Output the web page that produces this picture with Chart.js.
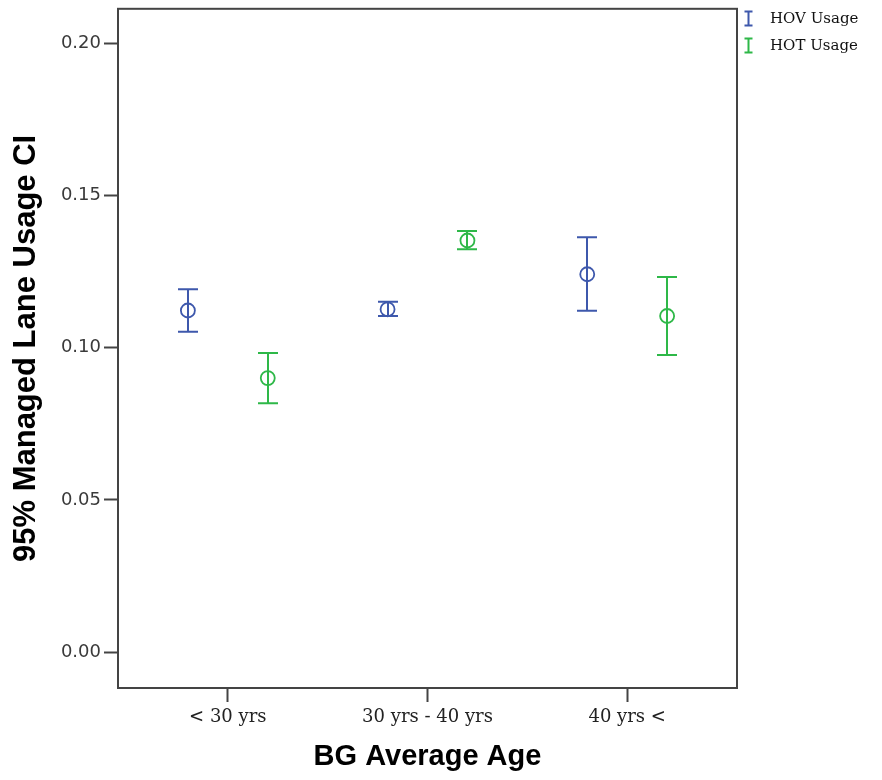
<!DOCTYPE html>
<html>
<head>
<meta charset="utf-8">
<title>Managed Lane Usage</title>
<script src="https://cdn.jsdelivr.net/npm/chart.js@4.4.1/dist/chart.umd.min.js"></script>
<style>
    html, body { margin: 0; padding: 0; background: #fff; }
    #grafico { display: block; }
</style>
</head>
<body>
<canvas id="grafico" width="882" height="780"></canvas>
<script>
// ── Dados ──
const categorias = ["< 30 yrs", "30 yrs - 40 yrs", "40 yrs <"];
const yTicks     = [0, 0.05, 0.10, 0.15, 0.20];

const hovMedia = [0.1122, 0.1126, 0.1241];
const hovInf   = [0.1052, 0.1104, 0.1121];
const hovSup   = [0.1192, 0.1151, 0.1363];

const hotMedia = [0.0900, 0.1352, 0.1104];
const hotInf   = [0.0817, 0.1323, 0.0976];
const hotSup   = [0.0982, 0.1383, 0.1232];

const series = [
    { label: "HOV Usage", cor: "#3E58AC", media: hovMedia, inf: hovInf, sup: hovSup, desloc: -0.2 },
    { label: "HOT Usage", cor: "#2EB848", media: hotMedia, inf: hotInf, sup: hotSup, desloc:  0.2 },
];

const COR_EIXO = "#444";
const FONTE_SERIF = "'DejaVu Serif', serif";
const FONTE_TITULO = "'Liberation Sans', Arial, sans-serif";

// ── Barras de erro (IC 95%) ──
const barrasErro = {
    id: "barrasErro",
    afterDatasetsDraw(chart) {
        const { ctx, scales: { x, y } } = chart;
        ctx.save();
        ctx.lineWidth = 2;
        series.forEach(s => {
            ctx.strokeStyle = s.cor;
            s.media.forEach((_, i) => {
                const px  = Math.round(x.getPixelForValue(i + s.desloc));
                const yLo = y.getPixelForValue(s.inf[i]);
                const yHi = y.getPixelForValue(s.sup[i]);
                ctx.beginPath();
                ctx.moveTo(px, yLo); ctx.lineTo(px, yHi);
                ctx.moveTo(px - 10, yLo); ctx.lineTo(px + 10, yLo);
                ctx.moveTo(px - 10, yHi); ctx.lineTo(px + 10, yHi);
                ctx.stroke();
            });
        });
        ctx.restore();
    }
};

// ── Moldura e legenda ──
const moldura = {
    id: "moldura",
    afterDraw(chart) {
        const { ctx, chartArea: a } = chart;
        ctx.save();
        ctx.strokeStyle = COR_EIXO;
        ctx.lineWidth = 2;
        ctx.strokeRect(a.left, a.top, a.right - a.left, a.bottom - a.top);

        // legenda no canto superior direito
        ctx.font = "15px " + FONTE_SERIF;
        ctx.textBaseline = "middle";
        series.forEach((s, k) => {
            const cy = 18.5 + k * 27;
            const ix = 748.5;
            ctx.strokeStyle = s.cor;
            ctx.lineWidth = 2;
            ctx.beginPath();
            ctx.moveTo(ix, cy - 7); ctx.lineTo(ix, cy + 7);
            ctx.moveTo(ix - 4, cy - 7); ctx.lineTo(ix + 4, cy - 7);
            ctx.moveTo(ix - 4, cy + 7); ctx.lineTo(ix + 4, cy + 7);
            ctx.stroke();
            ctx.fillStyle = "#111";
            ctx.fillText(s.label, 770, cy + 1);
        });
        ctx.restore();
    }
};

const gradeEixo = {
    drawOnChartArea: false,
    drawTicks: true,
    tickLength: 14,
    tickWidth: 2,
    tickColor: COR_EIXO,
};

new Chart(document.getElementById("grafico"), {
    type: "scatter",
    data: {
        datasets: series.map(s => ({
            label: s.label,
            data: s.media.map((v, i) => ({ x: i + s.desloc, y: v })),
            borderColor: s.cor,
            backgroundColor: "rgba(0,0,0,0)",
            borderWidth: 1.8,
            pointStyle: "circle",
            pointRadius: 7,
        }))
    },
    options: {
        responsive: false,
        animation: false,
        events: [],
        layout: { padding: { top: 7, right: 145, bottom: 0, left: 0 } },
        plugins: {
            legend: { display: false },
            tooltip: { enabled: false },
        },
        scales: {
            x: {
                type: "linear",
                min: -0.55,
                max: 2.55,
                afterFit: s => { s.height = 92; s.paddingLeft = 0; s.paddingRight = 0; },
                afterBuildTicks: s => { s.ticks = categorias.map((_, i) => ({ value: i })); },
                ticks: {
                    callback: v => categorias[v],
                    font: { family: FONTE_SERIF, size: 18 },
                    color: "#222",
                    padding: 5,
                    maxRotation: 0,
                },
                grid: gradeEixo,
                border: { display: false },
                title: {
                    display: true,
                    text: "BG Average Age",
                    font: { family: FONTE_TITULO, size: 29, weight: "bold" },
                    color: "#000",
                    padding: { top: 0, bottom: 6 },
                },
            },
            y: {
                min: -0.0118,
                max: 0.2113,
                afterFit: s => { s.width = 118; s.paddingTop = 0; s.paddingBottom = 0; },
                afterBuildTicks: s => { s.ticks = yTicks.map(v => ({ value: v })); },
                ticks: {
                    callback: v => v.toFixed(2),
                    font: { family: "'DejaVu Sans', sans-serif", size: 18 },
                    color: "#3a3a3a",
                    padding: 3,
                },
                grid: gradeEixo,
                border: { display: false },
                title: {
                    display: true,
                    text: "95% Managed Lane Usage CI",
                    font: { family: FONTE_TITULO, size: 31, weight: "bold" },
                    color: "#000",
                    padding: { top: 8, bottom: 0 },
                },
            },
        },
    },
    plugins: [barrasErro, moldura],
});
</script>
</body>
</html>
